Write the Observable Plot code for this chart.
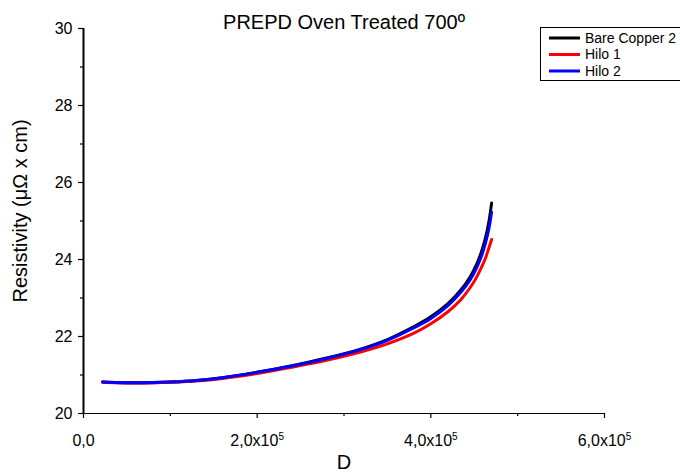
<!DOCTYPE html>
<html>
<head>
<meta charset="utf-8">
<script src="https://cdn.jsdelivr.net/npm/d3@7"></script>
<script src="https://cdn.jsdelivr.net/npm/@observablehq/plot@0.6"></script>
<style>
  html, body { margin: 0; padding: 0; background: white; }
  #chart { width: 680px; height: 474px; overflow: hidden; }
</style>
</head>
<body>
<div id="chart"></div>
<script>
const title = "PREPD Oven Treated 700º";
const xLabel = "D";
const yLabel = "Resistivity (μΩ x cm)";
const seriesNames = ["Bare Copper 2", "Hilo 1", "Hilo 2"];
const seriesColors = ["#000000", "#ff0000", "#0000ff"];

const D = [22000, 40000, 60000, 80000, 100000, 130000, 160000, 200000, 240000, 280000, 320000, 350000, 380000, 400000, 420000, 435000, 445000, 452000, 458000, 463000, 467000, 470000];
const bareCopper2 = [20.82, 20.805, 20.80, 20.805, 20.82, 20.86, 20.93, 21.07, 21.24, 21.44, 21.68, 21.92, 22.25, 22.51, 22.86, 23.22, 23.54, 23.84, 24.18, 24.57, 25.00, 25.47];
const hilo1 = [20.81, 20.795, 20.79, 20.795, 20.81, 20.845, 20.91, 21.04, 21.20, 21.38, 21.60, 21.81, 22.08, 22.33, 22.65, 22.97, 23.26, 23.51, 23.78, 24.04, 24.31, 24.52];
const hilo2 = [20.82, 20.805, 20.80, 20.805, 20.82, 20.86, 20.93, 21.07, 21.235, 21.43, 21.665, 21.90, 22.22, 22.47, 22.81, 23.16, 23.46, 23.75, 24.07, 24.43, 24.82, 25.23];

const xMajor = [0, 200000, 400000, 600000];
const xMinor = [100000, 300000, 500000];
const yMajor = [20, 22, 24, 26, 28, 30];
const yMinor = [21, 23, 25, 27, 29];

const seriesValues = [bareCopper2, hilo1, hilo2];
const rows = seriesNames.flatMap((name, i) => D.map((d, j) => ({D: d, R: seriesValues[i][j], series: name})));

const fmtX = d => d === 0 ? "0,0" : (d / 1e5).toFixed(1).replace(".", ",") + "x10^5";

const plot = Plot.plot({
  width: 680,
  height: 474,
  marginLeft: 83,
  marginRight: 76,
  marginTop: 28,
  marginBottom: 61,
  style: {fontFamily: "'Liberation Sans', Arial, sans-serif", background: "white", overflow: "visible", color: "black"},
  x: {domain: [0, 600000]},
  y: {domain: [20, 30]},
  color: {domain: seriesNames, range: seriesColors},
  marks: [
    Plot.axisX(xMajor, {tickSize: 5, tickPadding: 16, fontSize: 16, tickFormat: fmtX, label: null, strokeWidth: 1.2}),
    Plot.axisX(xMinor, {tickSize: 3, tickFormat: () => "", label: null, strokeWidth: 1.2}),
    Plot.axisY(yMajor, {tickSize: 5, tickPadding: 6, fontSize: 16, label: null, strokeWidth: 1.2}),
    Plot.axisY(yMinor, {tickSize: 3, tickFormat: () => "", label: null, strokeWidth: 1.2}),
    Plot.ruleY([20], {stroke: "black", strokeWidth: 1.2}),
    Plot.ruleX([0], {stroke: "black", strokeWidth: 2}),
    Plot.line(rows, {x: "D", y: "R", z: "series", stroke: "series", strokeWidth: 3, curve: "catmull-rom"}),
    Plot.text([title], {frameAnchor: "top", dy: -6, fontSize: 20, fill: "black", textAnchor: "middle", lineAnchor: "middle"}),
    Plot.text([xLabel], {frameAnchor: "bottom", dy: 49, fontSize: 20, fill: "black", textAnchor: "middle", lineAnchor: "middle"}),
    Plot.text([yLabel], {frameAnchor: "left", dx: -63, dy: -10, rotate: -90, fontSize: 20, fill: "black", textAnchor: "middle", lineAnchor: "middle"})
  ]
});

// superscript exponents in x tick labels
d3.select(plot).selectAll("text").each(function() {
  const t = this.textContent;
  if (t.includes("^")) {
    const [base, exp] = t.split("^");
    const sel = d3.select(this);
    sel.text(null);
    sel.append("tspan").text(base);
    sel.append("tspan").attr("dy", "-0.55em").attr("font-size", 10).text(exp);
  }
});

// legend
const lg = d3.select(plot).append("g")
  .attr("font-family", "'Liberation Sans', Arial, sans-serif")
  .attr("text-anchor", "start");
lg.append("rect").attr("x", 540.5).attr("y", 27.5).attr("width", 150).attr("height", 53)
  .attr("fill", "white").attr("stroke", "black").attr("stroke-width", 1);
seriesNames.forEach((name, i) => {
  const y = 38 + i * 16.5;
  lg.append("line").attr("x1", 549).attr("x2", 580).attr("y1", y).attr("y2", y)
    .attr("stroke", seriesColors[i]).attr("stroke-width", 3);
  lg.append("text").attr("x", 585).attr("y", y).attr("dy", "0.35em").attr("font-size", 14)
    .attr("text-anchor", "start").attr("fill", "black").text(name);
});

document.getElementById("chart").appendChild(plot);
</script>
</body>
</html>
